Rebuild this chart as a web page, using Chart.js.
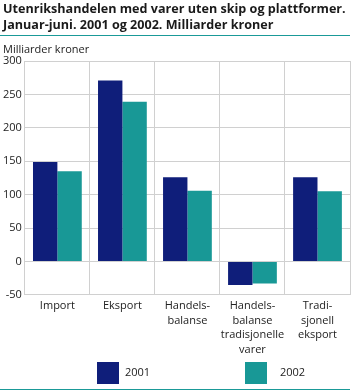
<!DOCTYPE html>
<html>
<head>
<meta charset="utf-8">
<script src="https://cdn.jsdelivr.net/npm/chart.js@4"></script>
<style>
  html, body { margin: 0; padding: 0; background: #fff; }
  #wrap { position: relative; width: 358px; height: 392px; }
</style>
</head>
<body>
<div id="wrap"><canvas id="chart" width="358" height="392"></canvas></div>
<script>
// Data
const categories = [
    ["Import"],
    ["Eksport"],
    ["Handels-", "balanse"],
    ["Handels-", "balanse", "tradisjonelle", "varer"],
    ["Tradi-", "sjonell", "eksport"]
];
const seriesNames = ["2001", "2002"];
const values2001 = [149, 271, 126, -35, 126];
const values2002 = [135, 239, 106, -33, 105];
const yTicks = [-50, 0, 50, 100, 150, 200, 250, 300];

const titleLines = [
    "Utenrikshandelen med varer uten skip og plattformer.",
    "Januar-juni. 2001 og 2002. Milliarder kroner"
];
const unitLabel = "Milliarder kroner";

const colors = ["#0f1e7a", "#189896"];
const teal = "#1a9a98";
const fontFamily = "'Open Sans', sans-serif";

// Title, rules, unit label and legend drawn around the plot
const decorations = {
    id: "decorations",
    afterDraw(chart) {
        const ctx = chart.ctx;
        ctx.save();
        ctx.fillStyle = "#1a1a1a";
        ctx.textAlign = "left";
        ctx.textBaseline = "alphabetic";
        ctx.font = "bold 12.6px " + fontFamily;
        ctx.fillText(titleLines[0], 3, 12.5);
        ctx.fillText(titleLines[1], 3, 29);

        ctx.strokeStyle = teal;
        ctx.lineWidth = 1;
        ctx.beginPath();
        ctx.moveTo(0, 35.5); ctx.lineTo(350, 35.5);
        ctx.moveTo(0, 389.5); ctx.lineTo(350, 389.5);
        ctx.stroke();

        ctx.font = "11px " + fontFamily;
        ctx.fillStyle = "#222";
        ctx.fillText(unitLabel, 3, 53);

        // legend
        const legendX = [97, 245];
        const textX = [125, 280];
        chart.data.datasets.forEach((ds, i) => {
            ctx.fillStyle = ds.backgroundColor;
            ctx.fillRect(legendX[i], 362, 22, 22);
            ctx.fillStyle = "#222";
            ctx.textBaseline = "middle";
            ctx.fillText(ds.label, textX[i], 373);
        });
        ctx.restore();
    }
};

new Chart(document.getElementById("chart"), {
    type: "bar",
    data: {
        labels: categories,
        datasets: [
            { label: seriesNames[0], data: values2001, backgroundColor: colors[0] },
            { label: seriesNames[1], data: values2002, backgroundColor: colors[1] }
        ]
    },
    options: {
        responsive: false,
        animation: false,
        layout: { padding: { top: 61, right: 8, left: 0, bottom: 31 } },
        categoryPercentage: 0.75,
        barPercentage: 1,
        scales: {
            x: {
                grid: { color: "#d0d0d0", drawTicks: false, offset: true },
                border: { color: "#d0d0d0" },
                ticks: {
                    color: "#222",
                    padding: 4,
                    maxRotation: 0,
                    autoSkip: false,
                    font: { family: fontFamily, size: 11, lineHeight: 1.32 }
                }
            },
            y: {
                min: -50,
                max: 300,
                afterBuildTicks: axis => { axis.ticks = yTicks.map(v => ({ value: v })); },
                grid: { color: "#d0d0d0", drawTicks: false },
                border: { color: "#d0d0d0" },
                ticks: {
                    color: "#222",
                    padding: 3,
                    font: { family: fontFamily, size: 11 }
                }
            }
        },
        plugins: {
            legend: { display: false },
            tooltip: { enabled: false }
        }
    },
    plugins: [decorations]
});
</script>
</body>
</html>
